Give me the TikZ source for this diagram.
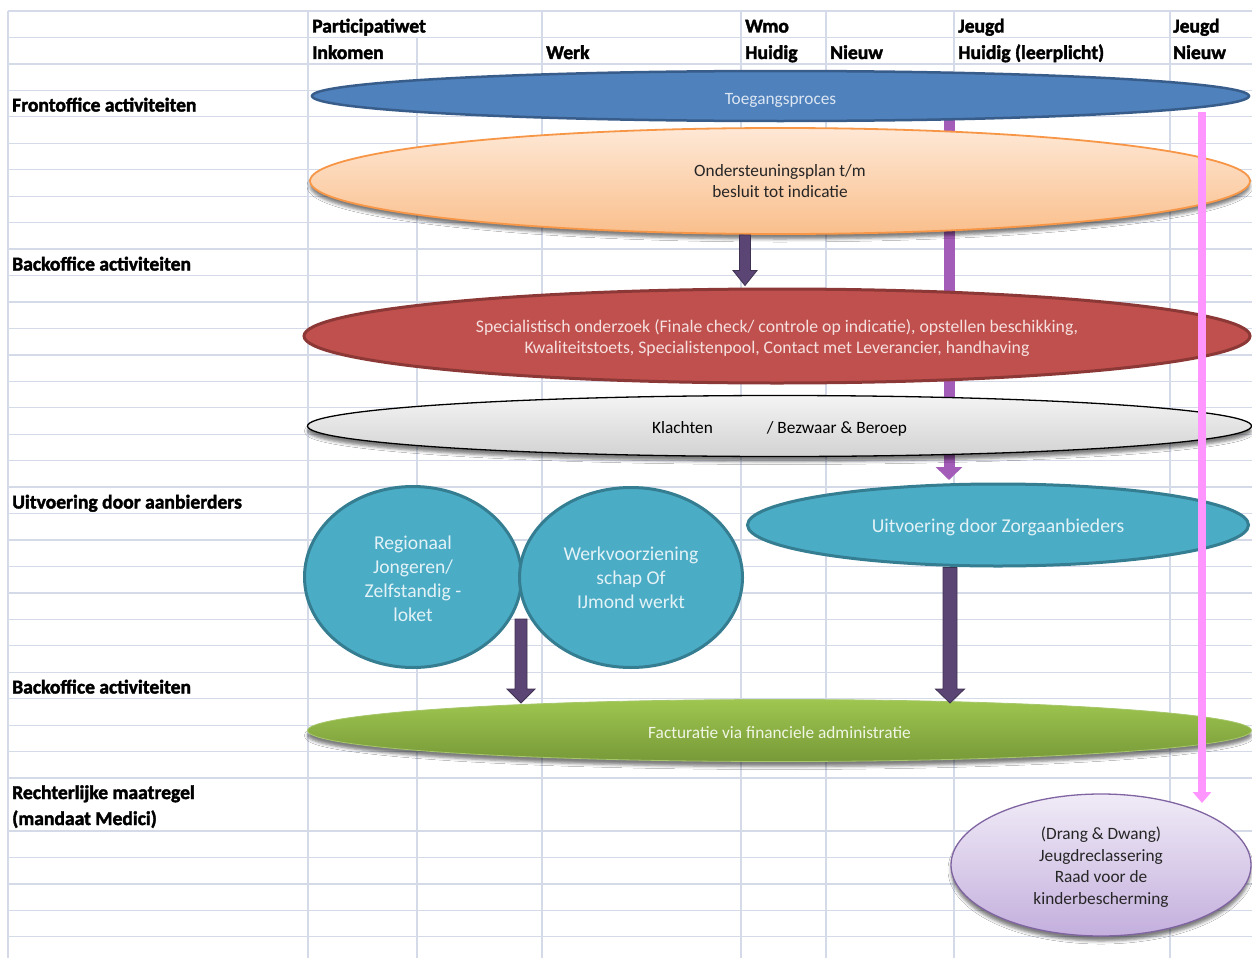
\documentclass[tikz,border=0pt]{standalone}
\usepackage{fontspec}
\setmainfont{Carlito}
\usetikzlibrary{shapes.geometric,arrows.meta,shadows.blur,calc}
\definecolor{gridc}{RGB}{212,218,232}
\definecolor{blueF}{HTML}{4F81BD}
\definecolor{blueD}{HTML}{385D8A}
\definecolor{blueT}{HTML}{DCE6F2}
\definecolor{orTop}{HTML}{FEE8D6}
\definecolor{orBot}{HTML}{FABF8C}
\definecolor{orD}{HTML}{F79646}
\definecolor{redF}{HTML}{C0504D}
\definecolor{redD}{HTML}{8C3836}
\definecolor{redT}{HTML}{F5E0DF}
\definecolor{grTop}{HTML}{F4F4F4}
\definecolor{grBot}{HTML}{D2D2D2}
\definecolor{tealF}{HTML}{4BACC6}
\definecolor{tealD}{HTML}{357D91}
\definecolor{tealT}{HTML}{E2F2F6}
\definecolor{gnTop}{HTML}{9FC650}
\definecolor{gnBot}{HTML}{779938}
\definecolor{gnD}{HTML}{A6C76A}
\definecolor{gnT}{HTML}{F0F5E4}
\definecolor{puTop}{HTML}{F0EBF7}
\definecolor{puBot}{HTML}{C4AFDD}
\definecolor{puD}{HTML}{8064A2}
\definecolor{txt}{HTML}{262626}
\definecolor{darkP}{HTML}{5A4575}
\definecolor{midP}{HTML}{8468A8}
\definecolor{darkPD}{HTML}{3F3151}
\definecolor{lightP}{RGB}{163,92,183}
\definecolor{pinkL}{RGB}{255,150,255}
\newcommand{\bodyfont}{\fontsize{17.3}{21.5}\selectfont}
\newcommand{\redfont}{\fontsize{17.7}{21.5}\selectfont}
\newcommand{\headfont}{\fontsize{19.6}{26}\selectfont\bfseries\addfontfeature{FakeBold=2}}
\newcommand{\tealfont}{\fontsize{19.6}{24}\selectfont}
\newcommand{\lowr}[1]{\rule{0pt}{#1pt}}
\newcommand{\vblockarrow}[6]{%
  \path[#1] let \p1=(#2), \p2=(#3) in
    (\x1-#4pt,\y1) -- (\x1+#4pt,\y1) -- (\x1+#4pt,\y2+#6pt) -- (\x1+#5pt,\y2+#6pt)
    -- (\x1,\y2) -- (\x1-#5pt,\y2+#6pt) -- (\x1-#4pt,\y2+#6pt) -- cycle;}
\begin{document}
\begin{tikzpicture}[x=1pt,y=-1pt,
  gridline/.style={draw=gridc, line width=1.3pt},
  head/.style={anchor=base west, font=\headfont, inner sep=0pt},
  ell/.style={ellipse, inner sep=0pt, align=center, font=\bodyfont},
  one/.style={text depth=0pt},
  shad/.style={blur shadow={shadow xshift=0pt, shadow yshift=-5pt, shadow blur radius=3pt, shadow opacity=50}},
  darrow/.style={draw=darkPD, line width=0.8pt, left color=darkP, middle color=midP, right color=darkP},
  bar/.style={line width=#1pt}
  ]
\useasboundingbox (0,0) rectangle (1252,958);
\fill[white] (0,0) rectangle (1252,958);
% grid
\foreach \k in {0,...,29,31,32,33,34,35}
  \draw[gridline] (8,{11+26.45*\k}) -- (1252,{11+26.45*\k});
\foreach \xx in {8,308,542,741,826,954,1170}
  \draw[gridline] (\xx,11) -- (\xx,958);
\draw[gridline] (417,37.45) -- (417,958);
% headings
\node[head] (hPart) at (312,32.5) {Participatiwet};
\node[head] (hWmo) at (745,32.5) {Wmo};
\node[head] (hJeugd1) at (958,32.5) {Jeugd};
\node[head] (hJeugd2) at (1173,32.5) {Jeugd};
\node[head] (hInk) at (312,59) {Inkomen};
\node[head] (hWerk) at (546,59) {Werk};
\node[head] (hHuidig) at (745,59) {Huidig};
\node[head] (hNieuw1) at (830,59) {Nieuw};
\node[head] (hHuidig2) at (958,59) {Huidig (leerplicht)};
\node[head] (hNieuw2) at (1173,59) {Nieuw};
\node[head] (lFront) at (12,111.5) {Frontoffice activiteiten};
\node[head] (lBack1) at (12,270.5) {Backoffice activiteiten};
\node[head] (lUitv) at (12,508.5) {Uitvoering door aanbierders};
\node[head] (lBack2) at (12,693.5) {Backoffice activiteiten};
\node[head] (lRecht1) at (12,799) {Rechterlijke maatregel};
\node[head] (lRecht2) at (12,825) {(mandaat Medici)};
% guide coordinates
\coordinate (gx745) at (745,0);
\coordinate (gx950) at (950,0);
% light purple bar (behind ellipses)
\coordinate (lpS) at (949,118);
\coordinate (lpE) at (949,480);
\draw[bar=11, draw=lightP, -{Triangle[width=26pt,length=13pt]}] (lpS) -- (lpE);
% ellipses
\node[ell, one, fill=blueF, draw=blueD, line width=2.5pt, minimum width=937pt, minimum height=50pt, text=blueT] (toe) at (780.5,96) {\lowr{16.5}Toegangsproces};
\node[ell, shad, top color=orTop, bottom color=orBot, draw=orD, line width=1.8pt, minimum width=940pt, minimum height=106pt, text=txt] (plan) at (780,181) {Ondersteuningsplan t/m\\besluit tot indicatie};
\node[ell, fill=redF, draw=redD, line width=3pt, minimum width=946pt, minimum height=94pt, text=redT, font=\redfont] (spec) at (777,336) {\lowr{17}Specialistisch onderzoek (Finale check/ controle op indicatie), opstellen beschikking,\\Kwaliteitstoets, Specialistenpool, Contact met Leverancier, handhaving};
\node[ell, one, shad, top color=grTop, bottom color=grBot, draw=black, line width=1.3pt, minimum width=944pt, minimum height=61pt, text=black] (klacht) at (779.5,426) {\lowr{14}Klachten\hspace{54pt}/ Bezwaar \& Beroep};
\node[ell, fill=tealF, draw=tealD, line width=3pt, minimum width=217pt, minimum height=181pt, text=tealT, font=\tealfont] (regio) at (413,577) {\lowr{18}Regionaal\\Jongeren/\\Zelfstandig -\\loket};
\node[ell, fill=tealF, draw=tealD, line width=3pt, minimum width=223pt, minimum height=180pt, text=tealT, font=\tealfont] (werkv) at (631,577.5) {Werkvoorziening\\schap Of\\IJmond werkt};
\node[ell, one, fill=tealF, draw=tealD, line width=3pt, minimum width=501pt, minimum height=82pt, text=tealT, font=\tealfont] (uitv) at (998,525) {\lowr{15.5}Uitvoering door Zorgaanbieders};
\node[ell, one, shad, top color=gnTop, bottom color=gnBot, draw=gnD, line width=0.8pt, minimum width=944pt, minimum height=62pt, text=gnT] (fact) at (779.5,730.5) {\lowr{16.5}Facturatie via financiele administratie};
\node[ell, shad, top color=puTop, bottom color=puBot, draw=puD, line width=1.3pt, minimum width=300pt, minimum height=142pt, text=txt] (drang) at (1101,865) {\lowr{17}(Drang \& Dwang)\\Jeugdreclassering\\Raad voor de\\kinderbescherming};
% dark block arrows
\coordinate (a1s) at (plan.south -| gx745);
\coordinate (a1e) at ($(spec.north -| gx745)+(0,-2)$);
\vblockarrow{darrow}{a1s}{a1e}{5.5}{12}{15}
\coordinate (a2s) at (521,619);
\coordinate (a2e) at (521,703);
\vblockarrow{darrow}{a2s}{a2e}{6}{14}{14}
\coordinate (a3s) at (uitv.south -| gx950);
\coordinate (a3e) at (950,703);
\vblockarrow{darrow}{a3s}{a3e}{7}{14.5}{14}
% pink line
\coordinate (pkS) at (1202,112);
\coordinate (pkE) at (1202,803);
\draw[bar=8, draw=pinkL, -{Triangle[width=18pt,length=11pt]}] (pkS) -- (pkE);
\end{tikzpicture}
\end{document}
